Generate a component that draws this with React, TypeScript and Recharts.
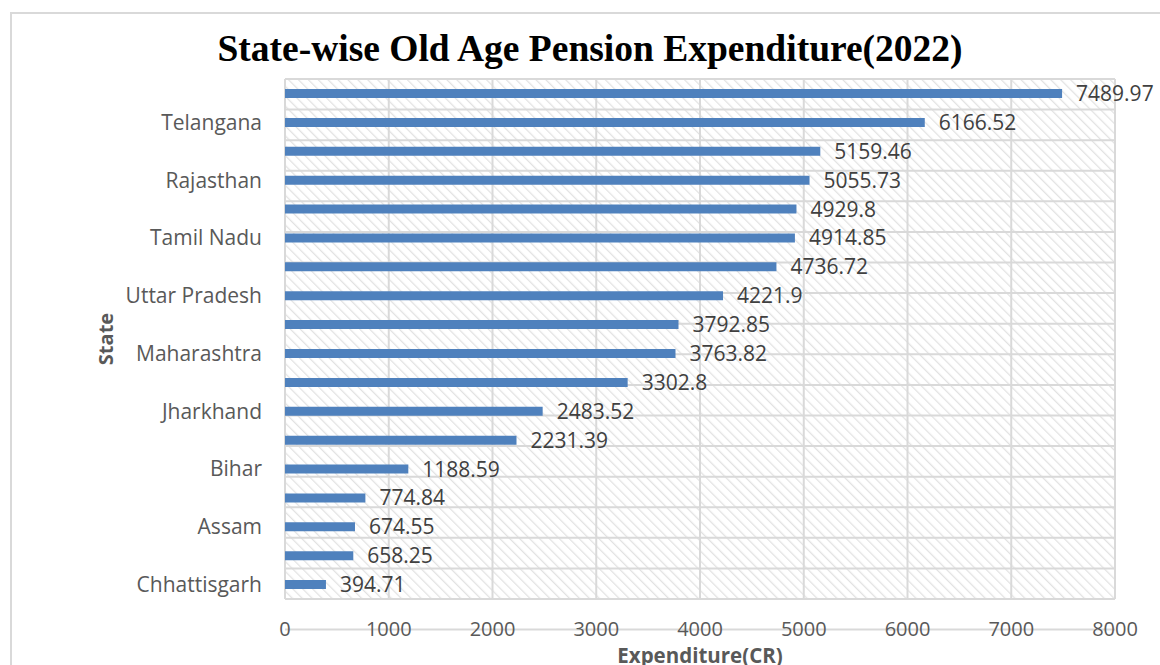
import React from 'react';
import { BarChart, Bar, XAxis, YAxis, CartesianGrid, LabelList } from 'recharts';

// bottom-to-top order (first = bottom bar)
const states = [
  'Chhattisgarh', 'Punjab', 'Assam', 'Haryana', 'Bihar', 'Kerala', 'Jharkhand', 'Gujarat',
  'Maharashtra', 'Madhya Pradesh', 'Uttar Pradesh', 'Odisha', 'Tamil Nadu', 'West Bengal',
  'Rajasthan', 'Karnataka', 'Telangana', 'Andhra Pradesh',
];
const expenditure = [
  394.71, 658.25, 674.55, 774.84, 1188.59, 2231.39, 2483.52, 3302.8, 3763.82, 3792.85,
  4221.9, 4736.72, 4914.85, 4929.8, 5055.73, 5159.46, 6166.52, 7489.97,
];
const xTicks = [0, 1000, 2000, 3000, 4000, 5000, 6000, 7000, 8000];
const bandTicks = [0, 1, 2, 3, 4, 5, 6, 7, 8, 9, 10, 11, 12, 13, 14, 15, 16, 17, 18];

const data = states.map((s, i) => ({ state: s, value: expenditure[i] }));

const FONT = '"Open Sans", "Liberation Sans", sans-serif';

export default function App() {
  return (
    <div style={{ position: 'absolute', left: 0, top: 0, width: 1160, height: 665, background: '#fff', overflow: 'hidden' }}>
      <svg width={0} height={0} style={{ position: 'absolute' }}>
        <defs>
          <pattern id="hatch" patternUnits="userSpaceOnUse" width={7} height={7} patternTransform="rotate(-45)">
            <rect width={7} height={7} fill="#ffffff" />
            <line x1={0} y1={0} x2={0} y2={7} stroke="#e2e2e2" strokeWidth={2.5} />
          </pattern>
        </defs>
      </svg>
      <div style={{ position: 'absolute', left: 10, top: 12, width: 1200, height: 700, border: '2px solid #d9d9d9', boxSizing: 'border-box' }} />
      <div style={{ position: 'absolute', left: 0, top: 27, width: 1180, textAlign: 'center', fontFamily: '"Liberation Serif", "Times New Roman", serif', fontWeight: 'bold', fontSize: 37.5, color: '#000', lineHeight: '44px', whiteSpace: 'nowrap' }}>
        State-wise Old Age Pension Expenditure(2022)
      </div>
      <div style={{ position: 'absolute', left: 0, top: 0 }}>
        <BarChart
          width={1160}
          height={665}
          data={data}
          layout="vertical"
          margin={{ top: 79, right: 45, bottom: 0, left: 0 }}
        >
          <CartesianGrid
            yAxisId="band"
            stroke="#d9d9d9"
            strokeWidth={2}
            fill="url(#hatch)"
            fillOpacity={1}
          />
          <XAxis
            type="number"
            domain={[0, 8000]}
            ticks={xTicks}
            height={66}
            axisLine={false}
            tickLine={false}
            tickSize={0}
            tickMargin={23}
            tick={{ fontSize: 20, fill: '#595959', fontFamily: FONT }}
            label={{
              content: ({ viewBox }: any) => (
                <text
                  x={viewBox.x + viewBox.width / 2}
                  y={viewBox.y + 64}
                  textAnchor="middle"
                  fontFamily={FONT}
                  fontWeight="bold"
                  fontSize={20.5}
                  fill="#595959"
                >
                  Expenditure(CR)
                </text>
              ),
            }}
          />
          <YAxis
            type="category"
            dataKey="state"
            reversed
            interval={1}
            width={285}
            axisLine={false}
            tickLine={false}
            tickSize={0}
            tickMargin={23}
            tick={{ fontSize: 21, fill: '#595959', fontFamily: FONT }}
            label={{
              content: ({ viewBox }: any) => {
                const x = 105;
                const y = viewBox.y + viewBox.height / 2;
                return (
                  <text
                    x={x}
                    y={y}
                    transform={`rotate(-90 ${x} ${y})`}
                    textAnchor="middle"
                    dominantBaseline="central"
                    fontFamily={FONT}
                    fontWeight="bold"
                    fontSize={20}
                    fill="#595959"
                  >
                    State
                  </text>
                );
              },
            }}
          />
          <YAxis yAxisId="band" type="number" domain={[0, 18]} ticks={bandTicks} hide />
          <Bar dataKey="value" fill="#4f81bd" barSize={9} isAnimationActive={false}>
            <LabelList
              dataKey="value"
              position="right"
              offset={14}
              style={{ fontSize: 21, fill: '#404040', fontFamily: FONT }}
            />
          </Bar>
        </BarChart>
      </div>
    </div>
  );
}
